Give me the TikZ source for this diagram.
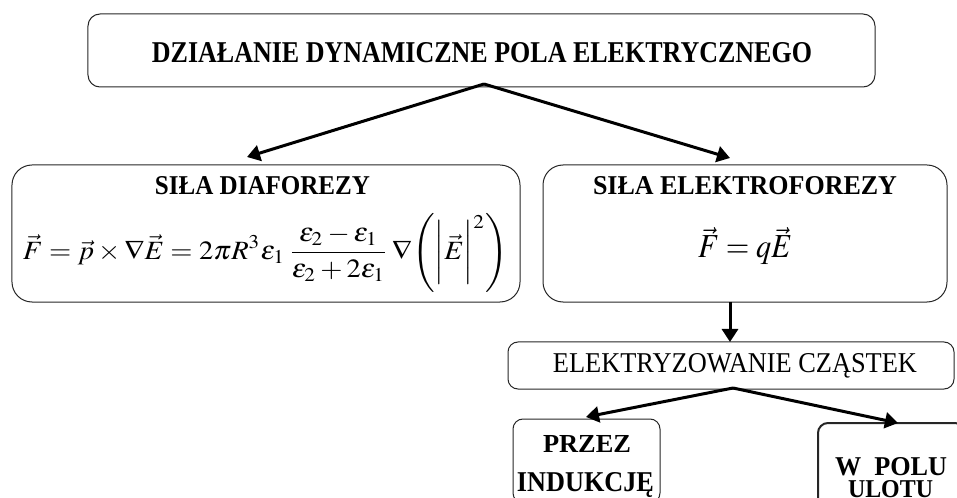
\documentclass[tikz,border=0pt]{standalone}
\usepackage{mathptmx}
\usepackage[no-math]{fontspec}
\setmainfont{Liberation Serif}
\usepackage{graphicx}
\usetikzlibrary{arrows.meta}
\newcommand{\fitbox}[3]{\resizebox{#1}{#2}{#3}}
\begin{document}
\begin{tikzpicture}[x=1bp,y=-1bp,
  box/.style={draw=black!85, line width=1bp, rounded corners=10bp, inner sep=0pt},
  bigbox/.style={box, rounded corners=20bp},
  thickbox/.style={box, line width=2bp},
  lbl/.style={inner sep=0pt, anchor=base},
  arr/.style={line width=3bp, -{Triangle[length=13bp,width=16bp]}}
]
\useasboundingbox (0,0) rectangle (957,498);
% boxes
\node[box, rounded corners=12bp, minimum width=787bp, minimum height=73bp] (top) at (481.5,50.5) {};
\node[bigbox, minimum width=508bp, minimum height=137bp] (left) at (266,233.5) {};
\node[bigbox, minimum width=404bp, minimum height=137bp] (right) at (745,233.5) {};
\node[box, minimum width=446bp, minimum height=47bp] (elek) at (731,365.5) {};
\node[box, minimum width=147bp, minimum height=84bp] (ind) at (586.5,461) {};
\node[thickbox, minimum width=147bp, minimum height=87bp] (ulot) at (891.5,466.5) {};
% texts
\node[lbl] (ttitle) at (482,63) {\fitbox{660bp}{20bp}{\bfseries DZIAŁANIE DYNAMICZNE POLA ELEKTRYCZNEGO}};
\node[lbl] (tdia) at (262.5,195) {\fitbox{215bp}{18bp}{\bfseries SIŁA DIAFOREZY}};
\node[lbl] (telf) at (745,195) {\fitbox{304bp}{18bp}{\bfseries SIŁA ELEKTROFOREZY}};
\node[inner sep=0pt] (fdia) at (265.5,252.5) {\resizebox*{485bp}{79bp}{$\displaystyle \vec{F}=\vec{p}\times\nabla\vec{E}=2\pi R^{3}\varepsilon_{1}\,\frac{\varepsilon_{2}-\varepsilon_{1}}{\varepsilon_{2}+2\varepsilon_{1}}\,\nabla\Biggl(\biggl|\vec{E}\biggr|^{2}\Biggr)$}};
\node[lbl] (felf) at (745,258) {\fitbox{94bp}{31bp}{$\vec{F}=q\vec{E}$}};
\node[lbl] (telek) at (735,372) {\fitbox{364bp}{19bp}{ELEKTRYZOWANIE CZĄSTEK}};
\node[lbl] (tprz) at (587,452) {\fitbox{88bp}{17bp}{\bfseries PRZEZ}};
\node[lbl] (tind) at (585.5,491) {\fitbox{137bp}{19bp}{\bfseries INDUKCJĘ}};
\node[lbl] (twp) at (891,475) {\fitbox{112bp}{18bp}{\bfseries W~~POLU}};
\node[lbl] (tul) at (890.5,497) {\fitbox{85bp}{17bp}{\bfseries ULOTU}};
% connector end points
\coordinate (apex) at (484,84);
\coordinate (tipL) at (247,157);
\coordinate (tipR) at (730,158);
\coordinate (vtop) at (730,302);
\coordinate (vbot) at (730,342);
\coordinate (eapex) at (733,388);
\coordinate (tipI) at (586,417);
\coordinate (tipU) at (898,423);
% connectors
\draw[arr] (apex) -- (tipL);
\draw[arr] (apex) -- (tipR);
\draw[arr] (vtop) -- (vbot);
\draw[arr] (eapex) -- (tipI);
\draw[arr] (eapex) -- (tipU);
\end{tikzpicture}
\end{document}
